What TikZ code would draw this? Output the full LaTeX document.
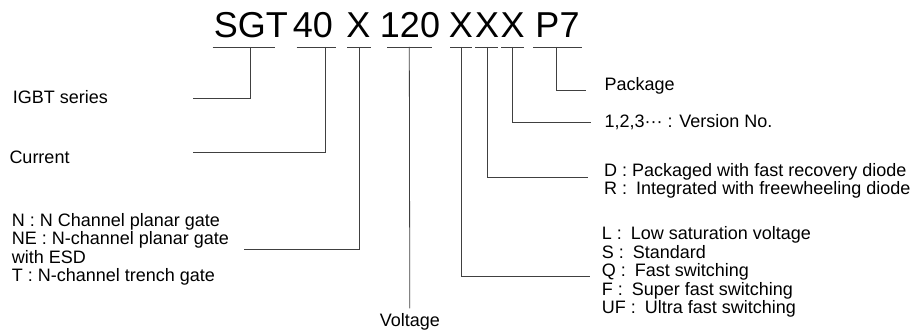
\documentclass[tikz,border=0pt]{standalone}
\usepackage{fontspec}
\setmainfont{Liberation Sans}
\usetikzlibrary{positioning}

\begin{document}
\begin{tikzpicture}[x=1pt, y=-1pt,
            code/.style={anchor=base, inner sep=0pt, font=\fontsize{36}{36}\selectfont},
            note/.style={anchor=base west, inner sep=0pt, font=\fontsize{18}{18}\selectfont},
            lead/.style={line width=0.8pt, black!75}
        ]
            \useasboundingbox (0,0) rectangle (913,336);

            % Part number, one node per field
            \node[code] (sgt) at (250.8, 37.3) {SGT};
            \node[code] (cur) at (313, 37.3) {40};
            \node[code] (chn) at (358.5, 37.3) {X};
            \node[code] (vlt) at (410, 37.3) {120};
            \node[code] (xa) at (461, 37.3) {X};
            \node[code] (xb) at (487, 37.3) {X};
            \node[code] (xc) at (512.7, 37.3) {X};
            \node[code] (pk) at (557.5, 37.3) {P7};

            % Bars under the fields
            \foreach \l/\r in {212.7/275, 296.7/336, 347/371, 387/431.7,
                               450/471.7, 475.3/497.7, 501.3/524, 533.3/581.7}
                \draw[lead] (\l,47) -- (\r,47);

            % Stem tops
            \coordinate (t1) at (250, 47);
            \coordinate (t2) at (325.7, 47);
            \coordinate (t3) at (359.3, 47);
            \coordinate (t4) at (409.3, 47);
            \coordinate (t5) at (461, 47);
            \coordinate (t6) at (487, 47);
            \coordinate (t7) at (512.7, 47);
            \coordinate (t8) at (556.7, 47);

            % Left notes
            \node[note] (igbt) at (12.7, 103.5) {IGBT series};
            \node[note] (curr) at (9.3, 163.3) {Current};
            \node[note] (gN) at (11.7, 226.7) {N : N Channel planar gate};
            \node[note] (gNE) at (11.7, 245) {NE : N-channel planar gate};
            \node[note] (esd) at (11.7, 263.3) {with ESD};
            \node[note] (gT) at (11.7, 281.6) {T : N-channel trench gate};
            \node[note, anchor=base] (volt) at (409.8, 326.5) {Voltage};

            % Right notes
            \node[note] (pkg) at (604.5, 91) {Package};
            \node[note] (ver) at (604.5, 127.5) {1,2,3··· : Version No.};
            \node[note] (dD) at (604, 177) {D : Packaged with fast recovery diode};
            \node[note] (dR) at (604, 194.5) {R :\enspace Integrated with freewheeling diode};
            \node[note] (sL) at (601.7, 240) {L :\enspace Low saturation voltage};
            \node[note] (sS) at (601.7, 258.5) {S :\enspace Standard};
            \node[note] (sQ) at (601.7, 277) {Q :\enspace Fast switching};
            \node[note] (sF) at (601.7, 295.5) {F :\enspace Super fast switching};
            \node[note] (sUF) at (601.7, 314) {UF :\enspace Ultra fast switching};

            % Line ends
            \coordinate (e1) at (193, 98.3);
            \coordinate (e2) at (193, 152.7);
            \coordinate (e3) at (244, 249);
            \coordinate (e5) at (590, 276);
            \coordinate (e6) at (588, 177);
            \coordinate (e7) at (591, 122.5);
            \coordinate (e8) at (586, 90.7);

            % Leaders
            \draw[lead] (t1) |- (e1);
            \draw[lead] (t2) |- (e2);
            \draw[lead] (t3) |- (e3);
            \draw[lead] (t4) -- ([yshift=5pt]volt.north);
            \draw[lead] (t5) |- (e5);
            \draw[lead] (t6) |- (e6);
            \draw[lead] (t7) |- (e7);
            \draw[lead] (t8) |- (e8);
        \end{tikzpicture}
\end{document}
